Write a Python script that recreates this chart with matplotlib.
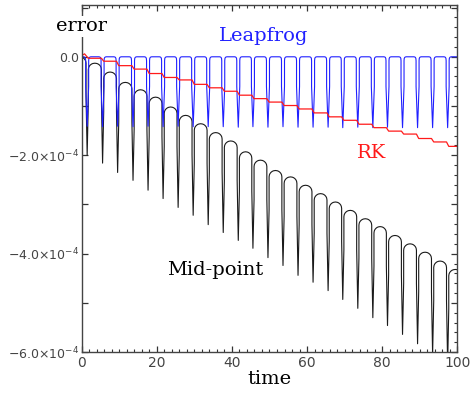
import numpy as np
import matplotlib
matplotlib.use('Agg')
import matplotlib.pyplot as plt
from matplotlib.ticker import MultipleLocator, FuncFormatter

# pericentre passages (dip times)
DIP_T = [1.5, 5.6, 9.6, 13.7, 17.7, 21.7, 25.7, 29.7, 33.7, 37.7, 41.7, 45.6,
         49.6, 53.6, 57.6, 61.6, 65.6, 69.5, 73.5, 77.5, 81.4, 85.4, 89.4,
         93.4, 97.4]

# errors in units of 1e-4
# mid-point: arch top after each dip, and bottom of each dip
MID_TOP = [-0.13, -0.31, -0.52, -0.67, -0.82, -1.02, -1.19, -1.36, -1.54,
           -1.71, -1.93, -2.10, -2.31, -2.44, -2.61, -2.78, -2.95, -3.12,
           -3.29, -3.45, -3.63, -3.80, -3.97, -4.15, -4.32]
MID_LOW = [-2.00, -2.16, -2.35, -2.51, -2.71, -2.88, -3.06, -3.22, -3.41,
           -3.57, -3.73, -3.89, -4.08, -4.24, -4.44, -4.58, -4.75, -4.93,
           -5.11, -5.30, -5.46, -5.64, -5.83, -6.05, -6.25]
# leapfrog: flat top, bottom of each dip
LEAP_LOW = [-1.41, -1.42, -1.41, -1.42, -1.41, -1.42, -1.41, -1.42, -1.42,
            -1.42, -1.43, -1.42, -1.43, -1.42, -1.43, -1.43, -1.43, -1.44,
            -1.43, -1.44, -1.43, -1.44, -1.44, -1.44, -1.44]
# RK: level of the staircase after each dip
RK_LEVEL = [-0.03, -0.09, -0.18, -0.25, -0.34, -0.42, -0.47, -0.56, -0.63,
            -0.70, -0.78, -0.85, -0.92, -0.99, -1.06, -1.14, -1.22, -1.29,
            -1.37, -1.44, -1.51, -1.57, -1.66, -1.73, -1.82]
RK_START = [(0.0, 0.02), (0.8, 0.06)]

# arch shapes between dips (half-width fraction, drop below top)
MID_ARCH_U = [0.0, 0.3, 0.5, 0.7, 0.85, 0.95, 1.0, 1.0]
MID_ARCH_DROP = [0.0, 0.006, 0.017, 0.037, 0.061, 0.089, 0.13, 0.8]
LEAP_ARCH_U = [0.0, 0.65, 0.8, 0.9, 0.97, 1.0, 1.0]
LEAP_ARCH_DROP = [0.0, 0.0, 0.005, 0.015, 0.035, 0.08, 0.6]


def build_curve(tops, lows, u, drop, gap, half=1.75):
    uu = [-v for v in u[::-1]] + list(u[1:])
    dd = list(drop[::-1]) + list(drop[1:])
    ts, ys = [], []
    n = len(DIP_T)
    for j in range(n + 1):
        if j == 0:
            right = DIP_T[0] - gap
            c, hw = right - half, half
        elif j == n:
            left = DIP_T[-1] + gap
            c, hw = left + half, half
        else:
            left, right = DIP_T[j - 1] + gap, DIP_T[j] - gap
            c, hw = (left + right) / 2, (right - left) / 2
        top = tops[j]
        for a, d in zip(uu, dd):
            ts.append(c + a * hw)
            ys.append(top - d)
        if j < n:
            ts.append(DIP_T[j])
            ys.append(lows[j])
    return np.array(ts), np.array(ys)


def build_rk():
    ts = [p[0] for p in RK_START]
    ys = [p[1] for p in RK_START]
    ts.append(DIP_T[0] + 0.3)
    ys.append(RK_LEVEL[0])
    for k in range(1, len(DIP_T)):
        ts += [DIP_T[k] - 0.3, DIP_T[k] + 0.3]
        ys += [RK_LEVEL[k - 1], RK_LEVEL[k]]
    ts.append(100.0)
    ys.append(RK_LEVEL[-1])
    return np.array(ts), np.array(ys)


def fmt_y(v, pos):
    v = round(v, 3)
    if abs(v) < 1e-9:
        return "0.0"
    if abs(v % 2) < 1e-9:
        return r"$-%.1f{\times}10^{-4}$" % abs(v)
    return ""


fig = plt.figure(figsize=(4.74, 3.93), dpi=100)
ax = fig.add_axes([0.172, 0.104, 0.793, 0.883])

t_mid, e_mid = build_curve([0.0] + MID_TOP, MID_LOW, MID_ARCH_U,
                           MID_ARCH_DROP, 0.3)
t_leap, e_leap = build_curve([0.0] * (len(DIP_T) + 1), LEAP_LOW,
                             LEAP_ARCH_U, LEAP_ARCH_DROP, 0.4, half=1.6)
t_rk, e_rk = build_rk()

ax.plot(t_mid, e_mid, color='#1a1a1a', lw=0.8)
ax.plot(t_leap, e_leap, color='#2020ff', lw=0.8)
ax.plot(t_rk, e_rk, color='#ff1a1a', lw=0.9)

ax.set_xlim(0, 100)
ax.set_ylim(-6.0, 1.05)

ax.xaxis.set_major_locator(MultipleLocator(20))
ax.xaxis.set_minor_locator(MultipleLocator(2))
ax.yaxis.set_major_locator(MultipleLocator(1))
ax.yaxis.set_minor_locator(MultipleLocator(0.2))
ax.yaxis.set_major_formatter(FuncFormatter(fmt_y))

ax.tick_params(which='both', direction='in', top=True, right=True,
               labelsize=10, labelcolor='#444444', color='#333333')
ax.tick_params(which='major', length=4, width=0.9, pad=3)
ax.tick_params(which='minor', length=2.2, width=0.8)
ax.tick_params(axis='y', which='minor', left=False)
ax.tick_params(axis='y', pad=2, labelsize=9)
for s in ax.spines.values():
    s.set_linewidth(1.0)
    s.set_color('#444444')

serif = 'DejaVu Serif'
ax.set_xlabel('time', family=serif, fontsize=14, labelpad=0)
fig.text(0.171, 0.933, 'error', family=serif, fontsize=14,
         ha='center', va='center',
         bbox=dict(facecolor='white', edgecolor='none', pad=1))
ax.text(48.4, 0.42, 'Leapfrog', family=serif, fontsize=14, color='#2020ff',
        ha='center', va='center')
ax.text(77.2, -1.96, 'RK', family=serif, fontsize=14, color='#ff1a1a',
        ha='center', va='center')
ax.text(35.6, -4.34, 'Mid-point', family=serif, fontsize=14, color='black',
        ha='center', va='center')

fig.savefig('out.png', dpi=100)
